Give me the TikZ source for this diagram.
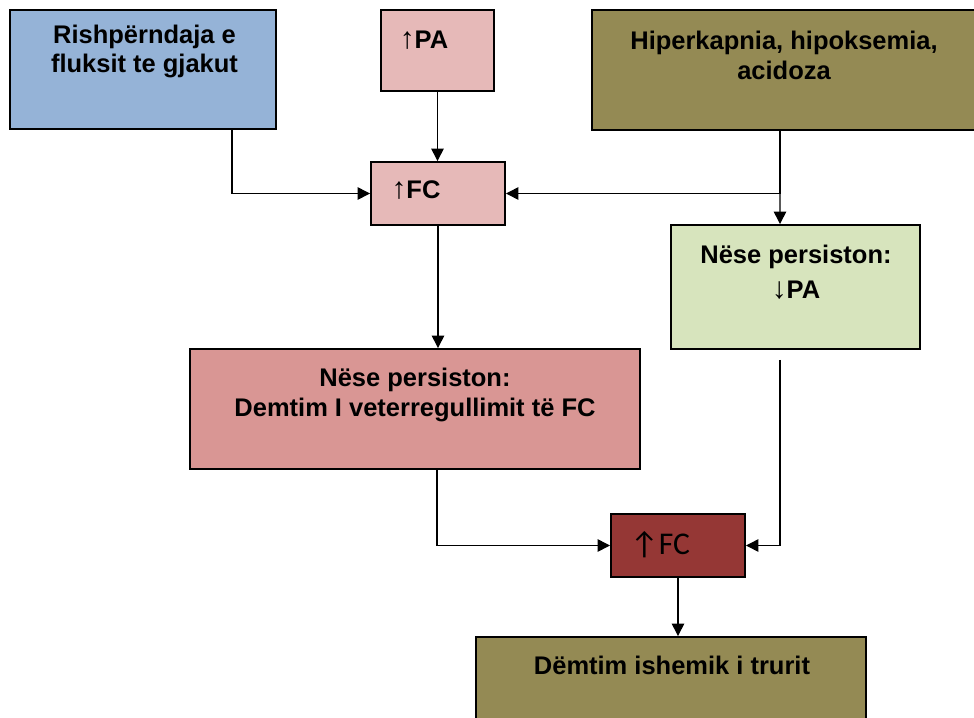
\documentclass[tikz,border=0pt]{standalone}
\usepackage{fontspec}
\setmainfont{Liberation Sans}
\newfontfamily\calib{Carlito}
\usetikzlibrary{arrows.meta}
\definecolor{boxblue}{HTML}{95B3D7}
\definecolor{boxpink}{HTML}{E6B9B8}
\definecolor{boxolive}{HTML}{948A54}
\definecolor{boxgreen}{HTML}{D7E4BD}
\definecolor{boxred}{HTML}{D99694}
\definecolor{boxdark}{HTML}{953735}
\newcommand{\uparr}{{\mdseries\fontsize{17}{17}\selectfont↑}}
\newcommand{\dnarr}{{\mdseries\fontsize{17}{17}\selectfont↓}}
\tikzset{
	blk/.style={draw=black,line width=1.1pt,inner sep=0pt},
	txt/.style={align=center,font=\fontsize{14.5}{17}\selectfont\bfseries,inner sep=0pt},
	arr/.style={line width=0.8pt,-{Triangle[length=7pt,width=7pt]}}
}

\begin{document}
\begin{tikzpicture}
	\useasboundingbox (0,0) rectangle (19.48,-14.34);
	
	\node[blk,fill=boxblue,minimum width=5.32cm,minimum height=2.38cm] (flow) at (2.86,-1.39) {};
	\node[blk,fill=boxpink,minimum width=2.26cm,minimum height=1.62cm] (pa) at (8.75,-1.01) {};
	\node[blk,fill=boxolive,minimum width=7.84cm,minimum height=2.40cm] (hyp) at (15.76,-1.40) {};
	\node[blk,fill=boxpink,minimum width=2.68cm,minimum height=1.26cm] (fc) at (8.76,-3.87) {};
	\node[blk,fill=boxgreen,minimum width=4.98cm,minimum height=2.48cm] (pers) at (15.91,-5.74) {};
	\node[blk,fill=boxred,minimum width=9.00cm,minimum height=2.40cm] (dmg) at (8.30,-8.18) {};
	\node[blk,fill=boxdark,minimum width=2.68cm,minimum height=1.26cm] (fcb) at (13.56,-10.91) {};
	\node[blk,fill=boxolive,minimum width=7.80cm,minimum height=1.80cm] (isch) at (13.42,-13.64) {};
	
	% texts
	\node[txt] (tflow) at (2.89,-1.03) {Rishpërndaja e\\fluksit te gjakut};
	\node[txt] (tpa) at (8.48,-0.80) {\uparr PA};
	\node[txt] (thyp) at (15.68,-1.10) {Hiperkapnia, hipoksemia,\\acidoza};
	\node[txt] (tfc) at (8.32,-3.80) {\uparr FC};
	\node[txt] (tpers) at (15.92,-5.45) {Nëse persiston:\\[3pt]\dnarr PA};
	\node[txt] (tdmg) at (8.30,-7.90) {Nëse persiston:\\Demtim I veterregullimit të FC};
	\node[inner sep=0pt,font=\calib\fontsize{18}{20}\selectfont] (tfcb) at (13.20,-10.90) {↑FC};
	\node[txt] (tisch) at (13.44,-13.30) {Dëmtim ishemik i trurit};
	
	\draw[arr] ([xshift=1.78cm]flow.south) |- (fc.west);
	\draw[arr] (pa.south) -- (pa.south |- fc.north);
	\draw[arr] ([xshift=-0.16cm]hyp.south) |- (fc.east);
	\draw[arr] ([xshift=-0.16cm]hyp.south) -- ([xshift=-0.31cm]pers.north);
	\draw[arr] (fc.south) -- (fc.south |- dmg.north);
	\draw[arr] ([xshift=0.44cm]dmg.south) |- (fcb.west);
	\draw[arr] ([xshift=-0.31cm,yshift=-0.2cm]pers.south) |- (fcb.east);
	\draw[arr] (fcb.south) -- (fcb.south |- isch.north);
\end{tikzpicture}
\end{document}
